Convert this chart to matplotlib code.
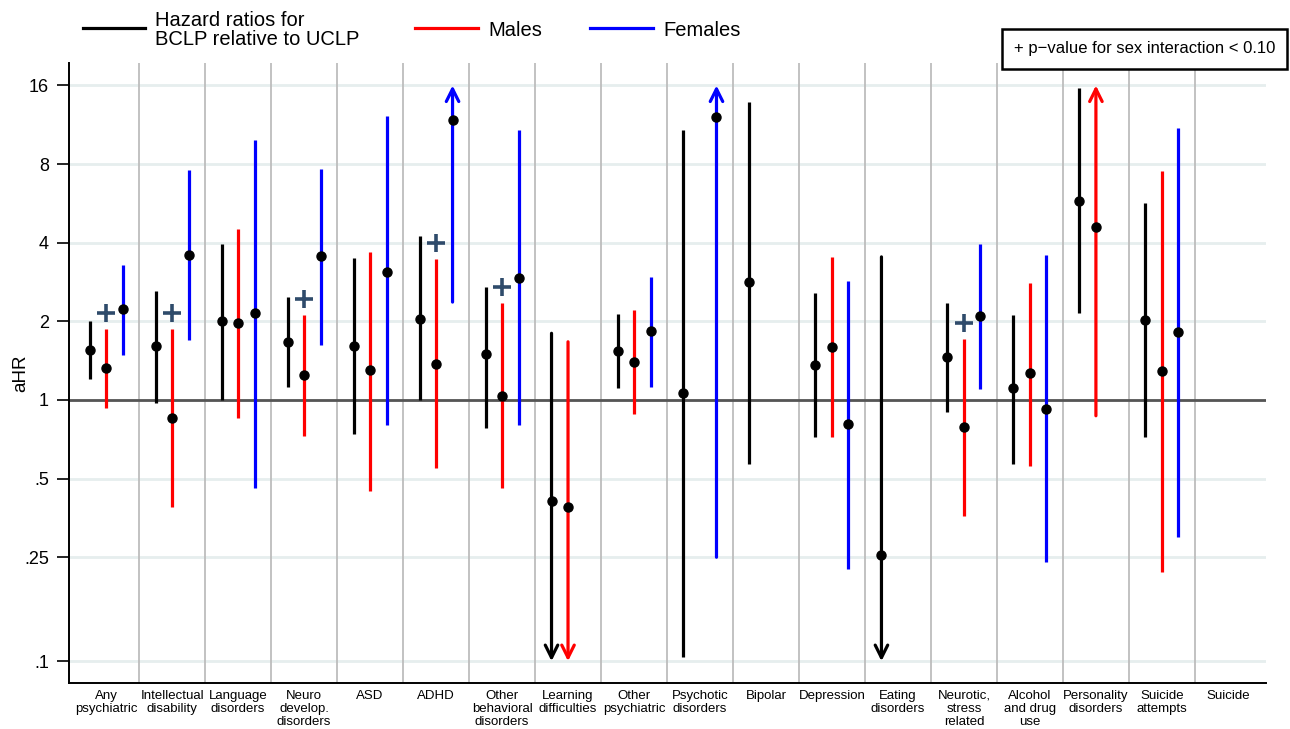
import numpy as np
import matplotlib
matplotlib.use("Agg")
import matplotlib.pyplot as plt

plt.rcParams['font.family'] = ['Liberation Sans', 'DejaVu Sans']

categories = ["Any\npsychiatric", "Intellectual\ndisability", "Language\ndisorders",
              "Neuro\ndevelop.\ndisorders", "ASD", "ADHD", "Other\nbehavioral\ndisorders",
              "Learning\ndifficulties", "Other\npsychiatric", "Psychotic\ndisorders", "Bipolar",
              "Depression", "Eating\ndisorders", "Neurotic,\nstress\nrelated",
              "Alcohol\nand drug\nuse", "Personality\ndisorders", "Suicide\nattempts", "Suicide"]

nan = np.nan
inf = np.inf
# inf upper limit -> arrow up, 0 lower limit -> arrow down
all_est = [1.55, 1.61, 2.0, 1.67, 1.61, 2.04, 1.5, 0.41, 1.54, 1.06, 2.83, 1.36, 0.255, 1.46, 1.11, 5.8, 2.02, nan]
all_lo = [1.2, 0.97, 1.0, 1.12, 0.74, 1.0, 0.78, 0, 1.11, 0.104, 0.57, 0.72, 0, 0.90, 0.57, 2.15, 0.72, nan]
all_hi = [2.0, 2.62, 3.95, 2.48, 3.5, 4.25, 2.71, 1.8, 2.13, 10.8, 13.8, 2.57, 3.53, 2.35, 2.12, 15.6, 5.67, nan]

male_est = [1.33, 0.85, 1.97, 1.25, 1.30, 1.37, 1.04, 0.39, 1.40, nan, nan, 1.6, nan, 0.79, 1.27, 4.6, 1.29, nan]
male_lo = [0.93, 0.39, 0.85, 0.73, 0.45, 0.55, 0.46, 0, 0.88, nan, nan, 0.72, nan, 0.36, 0.56, 0.87, 0.22, nan]
male_hi = [1.87, 1.87, 4.52, 2.12, 3.7, 3.46, 2.35, 1.67, 2.21, nan, nan, 3.53, nan, 1.71, 2.8, inf, 7.5, nan]

fem_est = [2.23, 3.59, 2.15, 3.56, 3.1, 11.8, 2.93, nan, 1.84, 12.1, nan, 0.81, nan, 2.1, 0.92, nan, 1.82, nan]
fem_lo = [1.49, 1.70, 0.46, 1.62, 0.80, 2.37, 0.80, nan, 1.12, 0.25, nan, 0.226, nan, 1.10, 0.24, nan, 0.30, nan]
fem_hi = [3.29, 7.6, 9.9, 7.65, 12.2, inf, 10.8, nan, 2.96, inf, nan, 2.86, nan, 3.95, 3.59, nan, 11.0, nan]

sex_interaction = [1, 1, 0, 1, 0, 1, 1, 0, 0, 0, 0, 0, 0, 1, 0, 0, 0, 0]

yticks = [0.1, 0.25, 0.5, 1, 2, 4, 8, 16]
ytick_labels = [".1", ".25", ".5", "1", "2", "4", "8", "16"]

W, H = 1290, 729
fig = plt.figure(figsize=(12.9, 7.29), dpi=100)
ax = fig.add_axes([68.5 / W, 1 - 683 / H, (1265.5 - 68.5) / W, (683 - 63) / H])
ax.set_yscale('log', base=2)
ax.set_ylim(0.0825, 19.5)
ax.set_xlim(-0.07, 18.07)

for t in yticks:
    ax.axhline(t, color='#e6eeee', lw=2, zorder=0)
for i in range(1, 18):
    ax.axvline(i, color='#bdbdbd', lw=1.3, zorder=0)
ax.axhline(1, color='#555555', lw=2, zorder=1)

top_arrow, bot_arrow = 16, 0.1


def draw_series(est, lo, hi, offset, color):
    for i in range(len(est)):
        if np.isnan(est[i]):
            continue
        x = i + 0.5 + offset
        l = lo[i] if lo[i] > 0 else bot_arrow
        h = hi[i] if np.isfinite(hi[i]) else top_arrow
        if np.isfinite(hi[i]) and lo[i] > 0:
            ax.plot([x, x], [l, h], color=color, lw=2.3, solid_capstyle='butt', zorder=2)
        elif not np.isfinite(hi[i]):
            ax.annotate("", xy=(x, h), xytext=(x, l),
                        arrowprops=dict(arrowstyle='->,head_length=0.9,head_width=0.45',
                                        color=color, lw=2.3, shrinkA=0, shrinkB=0), zorder=2)
        else:
            ax.annotate("", xy=(x, l), xytext=(x, h),
                        arrowprops=dict(arrowstyle='->,head_length=0.9,head_width=0.45',
                                        color=color, lw=2.3, shrinkA=0, shrinkB=0), zorder=2)
        ax.plot(x, est[i], 'o', color='black', ms=6.5, zorder=3)


draw_series(all_est, all_lo, all_hi, -0.25, 'black')
draw_series(male_est, male_lo, male_hi, 0.0, '#ff0000')
draw_series(fem_est, fem_lo, fem_hi, 0.25, '#0000ff')

for i, flag in enumerate(sex_interaction):
    if flag:
        ax.plot(i + 0.5, male_hi[i] * 1.15, '+', color='#2f4b6b', ms=13, mew=2.6, zorder=3)

ax.set_yticks(yticks)
ax.set_yticklabels(ytick_labels, fontsize=13)
ax.yaxis.set_minor_locator(matplotlib.ticker.NullLocator())
ax.tick_params(axis='y', length=9, width=1.2, pad=5)
ax.set_xticks(np.arange(18) + 0.5)
ax.set_xticklabels(categories, fontsize=9.5, linespacing=1.1, va='top')
ax.tick_params(axis='x', length=0, pad=5)

ax.spines['top'].set_visible(False)
ax.spines['right'].set_visible(False)
ax.spines['left'].set_linewidth(1.4)
ax.spines['bottom'].set_linewidth(1.4)


# legend drawn manually on figure
def fx(px):
    return px / W


def fy(py):
    return 1 - py / H


fig.text(fx(21), fy(373), "aHR", rotation=90, fontsize=13.5, ha='center', va='center')

for x0, x1, c, label in [(83, 145, 'black', "Hazard ratios for\nBCLP relative to UCLP"),
                         (415, 478, '#ff0000', "Males"),
                         (590, 653, '#0000ff', "Females")]:
    fig.add_artist(plt.Line2D([fx(x0), fx(x1)], [fy(28), fy(28)], color=c, lw=2.3,
                              transform=fig.transFigure))
    fig.text(fx(x1 + 10), fy(30), label, fontsize=14.5, va='center', ha='left', linespacing=1.0)

fig.add_artist(plt.Rectangle((fx(1002), fy(69)), fx(1287) - fx(1002), fy(29) - fy(69),
                             transform=fig.transFigure, facecolor='white', edgecolor='black',
                             lw=1.8))
fig.text(fx(1145), fy(49), "+ p\u2212value for sex interaction < 0.10", fontsize=12,
         ha='center', va='center')

fig.savefig("out.png", dpi=100)
